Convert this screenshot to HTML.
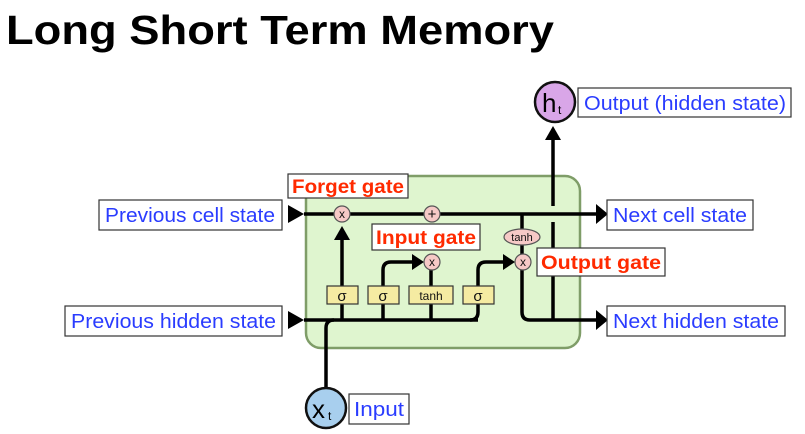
<!DOCTYPE html>
<html><head><style>
html,body{margin:0;padding:0;background:#fff;}
svg{display:block;}
.lb{font-family:"Liberation Sans",sans-serif;font-size:20px;fill:#2a3cff;}
.rd{font-family:"Liberation Sans",sans-serif;font-size:19px;font-weight:bold;fill:#ff2a00;}
.sm{font-family:"Liberation Sans",sans-serif;fill:#111;}
</style></head><body>
<svg width="805" height="434" viewBox="0 0 805 434" xmlns="http://www.w3.org/2000/svg">
<text x="6" y="44" font-family="Liberation Sans,sans-serif" font-weight="bold" font-size="41" textLength="548" lengthAdjust="spacingAndGlyphs">Long Short Term Memory</text>

<rect x="306" y="176" width="274" height="172" rx="15" fill="#dff5cf" stroke="#7f9d68" stroke-width="2.5"/>

<line x1="304" y1="214" x2="598" y2="214" stroke="#000" stroke-width="3.5"/>
<path d="M596,204L608,214L596,224z"/>
<path d="M288,205L304,214L288,223z"/>
<line x1="304" y1="320" x2="478" y2="320" stroke="#000" stroke-width="3.5"/>
<path d="M288,311L304,320L288,329z"/>
<path d="M326,390V328Q326,320 334,320" fill="none" stroke="#000" stroke-width="3.5"/>
<line x1="342" y1="320" x2="342" y2="238" stroke="#000" stroke-width="3.5"/>
<path d="M334,240L342,226L350,240z"/>
<path d="M383,320V270Q383,262 391,262H414" fill="none" stroke="#000" stroke-width="3.5"/>
<path d="M412,254L424,262L412,270z"/>
<line x1="431" y1="320" x2="431" y2="268" stroke="#000" stroke-width="3.5"/>
<path d="M470,320Q478,320 478,312V270Q478,262 486,262H505" fill="none" stroke="#000" stroke-width="3.5"/>
<path d="M503,254L515,262L503,270z"/>
<path d="M522,214V312Q522,320 530,320H598" fill="none" stroke="#000" stroke-width="3.5"/>
<path d="M596,310L608,320L596,330z"/>
<line x1="553" y1="320" x2="553" y2="222" stroke="#000" stroke-width="3.5"/>
<line x1="553" y1="206" x2="553" y2="138" stroke="#000" stroke-width="3.5"/>
<path d="M545,140L553,126L561,140z"/>
<rect x="549" y="207" width="8" height="5" fill="#dff5cf"/>

<g stroke="#333" stroke-width="1.2" fill="#f5eba2">
<rect x="327" y="286" width="31" height="18"/>
<rect x="368" y="286" width="31" height="18"/>
<rect x="409" y="286" width="44" height="18"/>
<rect x="463" y="286" width="31" height="18"/>
</g>
<g class="sm" font-size="15" text-anchor="middle">
<text x="342" y="301">σ</text><text x="383" y="301">σ</text><text x="478" y="301">σ</text>
<text x="431" y="300" font-size="12">tanh</text>
</g>
<g stroke="#555" stroke-width="1.2" fill="#f6c9c6">
<circle cx="342" cy="214" r="8"/><circle cx="432" cy="214" r="8"/>
<circle cx="432" cy="262" r="8"/><circle cx="523" cy="262" r="8"/>
<ellipse cx="522" cy="237" rx="18" ry="8"/>
</g>
<g class="sm" font-size="12" text-anchor="middle">
<text x="342" y="218">x</text><text x="432" y="219" font-size="15">+</text>
<text x="432" y="266">x</text><text x="523" y="266">x</text>
<text x="522" y="241" font-size="11">tanh</text>
</g>

<circle cx="555" cy="102" r="20" fill="#d9a6e8" stroke="#111" stroke-width="2.5"/>
<text x="542" y="112" font-family="Liberation Sans,sans-serif" font-size="26">h</text>
<text x="558" y="114" font-family="Liberation Sans,sans-serif" font-size="12">t</text>
<circle cx="326" cy="408" r="20" fill="#a8cfee" stroke="#111" stroke-width="2.5"/>
<text x="312" y="418" font-family="Liberation Sans,sans-serif" font-size="26">x</text>
<text x="328" y="420" font-family="Liberation Sans,sans-serif" font-size="12">t</text>

<g fill="#fff" stroke="#333" stroke-width="1.2">
<rect x="99" y="200" width="183" height="30"/>
<rect x="65" y="306" width="217" height="30"/>
<rect x="607" y="200" width="146" height="30"/>
<rect x="607" y="306" width="178" height="30"/>
<rect x="578" y="88" width="213" height="29"/>
<rect x="349" y="394" width="60" height="30"/>
<rect x="288" y="174" width="120" height="24"/>
<rect x="372" y="224" width="108" height="26"/>
<rect x="537" y="248" width="128" height="28"/>
</g>
<text class="lb" x="105" y="222" textLength="170" lengthAdjust="spacingAndGlyphs">Previous cell state</text>
<text class="lb" x="71" y="328" textLength="205" lengthAdjust="spacingAndGlyphs">Previous hidden state</text>
<text class="lb" x="613" y="222" textLength="134" lengthAdjust="spacingAndGlyphs">Next cell state</text>
<text class="lb" x="613" y="328" textLength="166" lengthAdjust="spacingAndGlyphs">Next hidden state</text>
<text class="lb" x="584" y="110" textLength="202" lengthAdjust="spacingAndGlyphs">Output (hidden state)</text>
<text class="lb" x="354" y="416" textLength="50" lengthAdjust="spacingAndGlyphs">Input</text>
<text class="rd" x="292" y="193" textLength="112" lengthAdjust="spacingAndGlyphs">Forget gate</text>
<text class="rd" x="376" y="244" textLength="100" lengthAdjust="spacingAndGlyphs">Input gate</text>
<text class="rd" x="541" y="269" textLength="120" lengthAdjust="spacingAndGlyphs">Output gate</text>
</svg>
</body></html>
